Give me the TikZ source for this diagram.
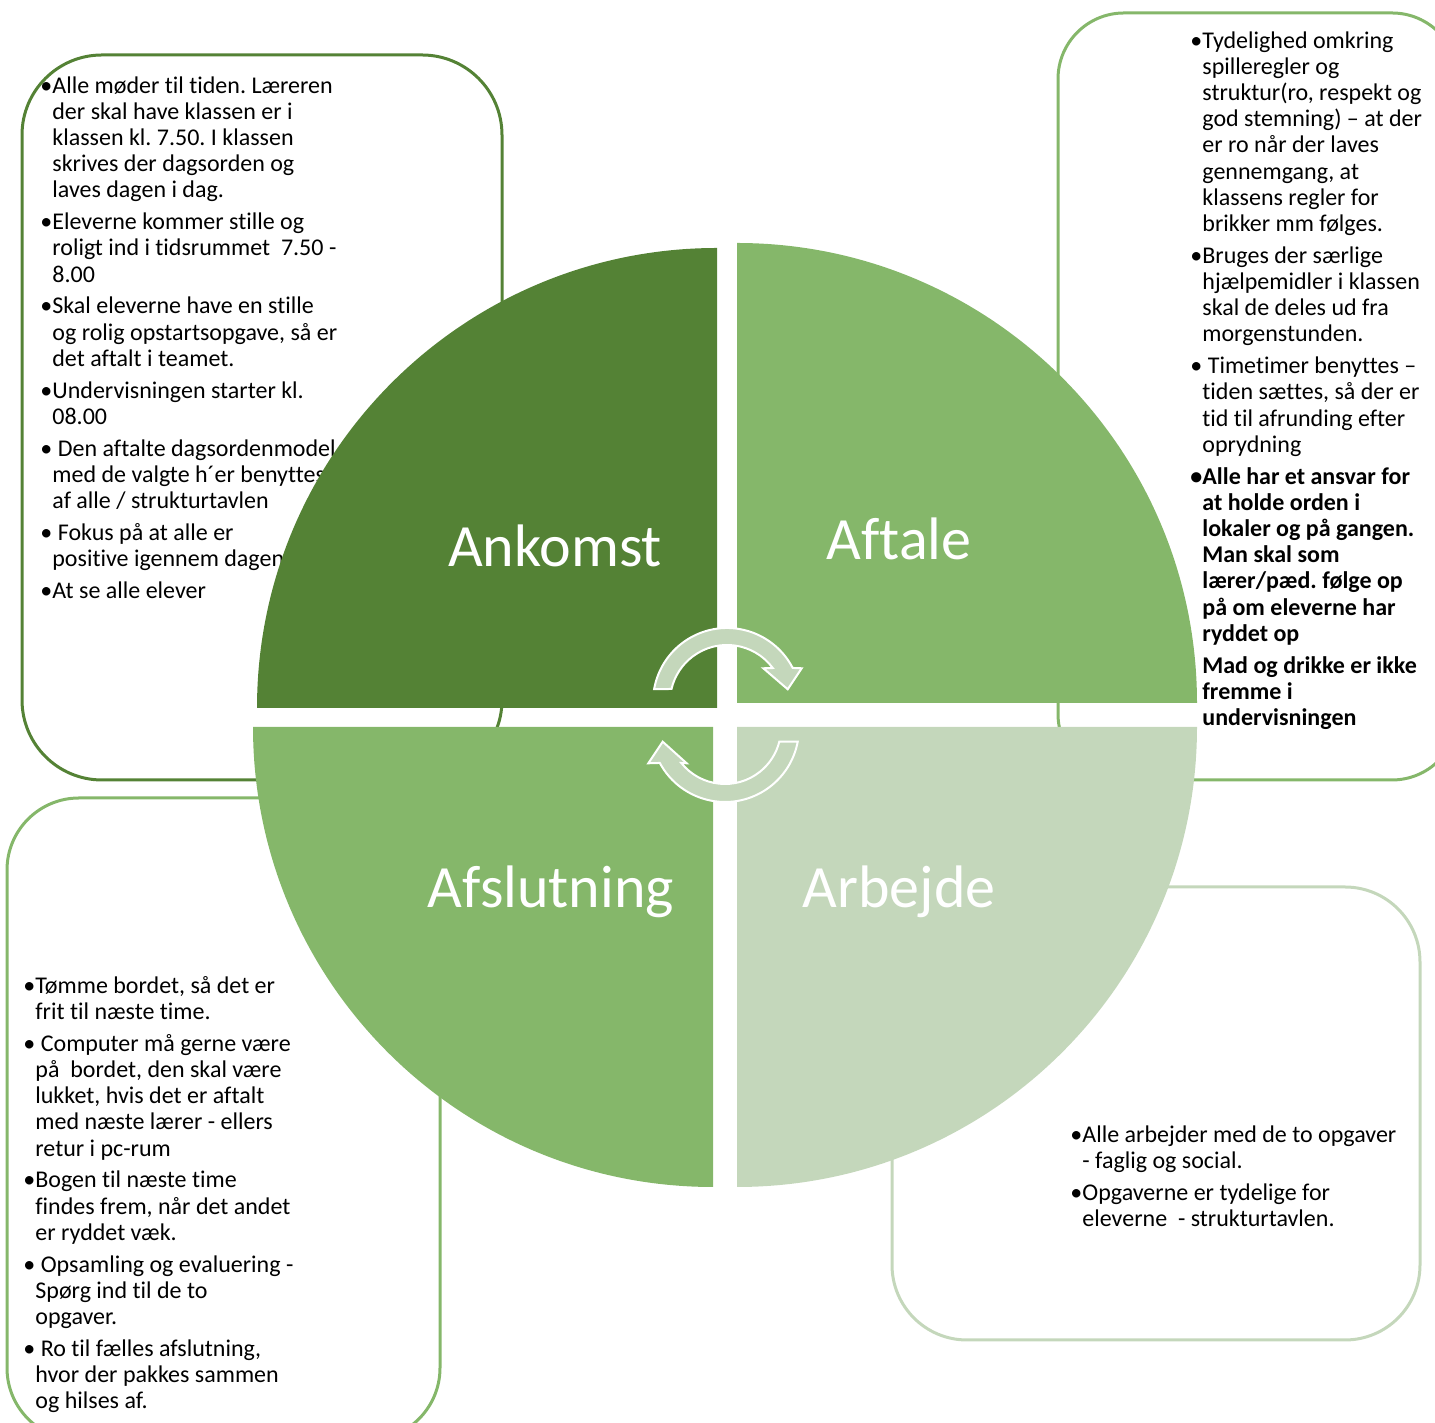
\documentclass[tikz,border=0pt]{standalone}
\usepackage{fontspec}
\setmainfont[Ligatures=NoCommon]{Carlito}
\definecolor{darkgreen}{RGB}{84,130,53}
\definecolor{midgreen}{RGB}{133,183,106}
\definecolor{palegreen}{RGB}{196,215,187}
\newcommand{\blt}{\llap{•}}
\frenchspacing

\begin{document}
\begin{tikzpicture}[x=0.5pt,y=0.5pt,
    infobox/.style={line width=1.5pt},
    listtext/.style={anchor=north west,align=left,font=\fontsize{12}{13.1}\selectfont},
    phase/.style={text=white,anchor=base,font=\fontsize{30}{36}\selectfont},
    turn/.style={fill=palegreen,draw=white,line width=1pt}]
    \tikzstyle{every node}+=[inner sep=0pt]
    \useasboundingbox (0,0) rectangle (1435,1423);
    \clip (0,0) rectangle (1435,1423);
    % boxes behind the wheel
    \draw [infobox,darkgreen,rounded corners=40pt] (22,643) rectangle (502,1368);
    \draw [infobox,midgreen,rounded corners=33pt] (1058,643) rectangle (1458,1410);
    \draw [infobox,midgreen,rounded corners=36pt] (7,-17) rectangle (440,625);
    \draw [infobox,palegreen,rounded corners=37.5pt] (892,83) rectangle (1420,536);
    \node [listtext] (ankomsttxt) at (52,1347) {%
        \blt Alle møder til tiden. Læreren\\ der skal have klassen er i\\ klassen kl. 7.50. I klassen\\ skrives der dagsorden og\\ laves dagen i dag.\\[2.8pt]
        \blt Eleverne kommer stille og\\ roligt ind i tidsrummet\ \ 7.50 -\\ 8.00\\[2.8pt]
        \blt Skal eleverne have en stille\\ og rolig opstartsopgave, så er\\ det aftalt i teamet.\\[2.8pt]
        \blt Undervisningen starter kl.\\ 08.00\\[2.8pt]
        \blt\ Den aftalte dagsordenmodel\\ med de valgte h´er benyttes\\ af alle / strukturtavlen\\[2.8pt]
        \blt\ Fokus på at alle er\\ positive igennem dagen\\[2.8pt]
        \blt At se alle elever};
    \node [listtext] (aftaletxt) at (1202,1392) {%
        \blt Tydelighed omkring\\ spilleregler og\\ struktur(ro, respekt og\\ god stemning) – at der\\ er ro når der laves\\ gennemgang, at\\ klassens regler for\\ brikker mm følges.\\[2.8pt]
        \blt Bruges der særlige\\ hjælpemidler i klassen\\ skal de deles ud fra\\ morgenstunden.\\[2.8pt]
        \blt\ Timetimer benyttes –\\ tiden sættes, så der er\\ tid til afrunding efter\\ oprydning\\[2.8pt]
        \textbf{\blt Alle har et ansvar for}\\ \textbf{at holde orden i}\\ \textbf{lokaler og på gangen.}\\ \textbf{Man skal som}\\ \textbf{lærer/pæd. følge op}\\ \textbf{på om eleverne har}\\ \textbf{ryddet op}\\[2.8pt]
        \textbf{Mad og drikke er ikke}\\ \textbf{fremme i}\\ \textbf{undervisningen}};
    \node [listtext] (afslutningtxt) at (35,447) {%
        \blt Tømme bordet, så det er\\ frit til næste time.\\[2.8pt]
        \blt\ Computer må gerne være\\ på\ \ bordet, den skal være\\ lukket, hvis det er aftalt\\ med næste lærer - ellers\\ retur i pc-rum\\[2.8pt]
        \blt Bogen til næste time\\ findes frem, når det andet\\ er ryddet væk.\\[2.8pt]
        \blt\ Opsamling og evaluering -\\ Spørg ind til de to\\ opgaver.\\[2.8pt]
        \blt\ Ro til fælles afslutning,\\ hvor der pakkes sammen\\ og hilses af.};
    \node [listtext] (arbejdetxt) at (1082,298) {%
        \blt Alle arbejder med de to opgaver\\ - faglig og social.\\[2.8pt]
        \blt Opgaverne er tydelige for\\ eleverne\ \ - strukturtavlen.};
    % the wheel
    \fill [darkgreen] (717,715) -- (717,1175) arc[start angle=90,end angle=180,radius=460] -- cycle;
    \fill [midgreen] (737,720) -- (1197,720) arc[start angle=0,end angle=90,radius=460] -- cycle;
    \fill [midgreen] (713,696) -- (253,696) arc[start angle=180,end angle=270,radius=460] -- cycle;
    \fill [palegreen] (737,696) -- (737,236) arc[start angle=270,end angle=360,radius=460] -- cycle;
    \node [phase] (ankomst) at (555,856) {Ankomst};
    \node [phase] (aftale) at (899,863) {Aftale};
    \node [phase] (afslutning) at (551,515) {Afslutning};
    \node [phase] (arbejde) at (899,515) {Arbejde};
    % turning arrows
    \draw [turn,shift={(727,721)}] (170:74) arc[start angle=170,end angle=27.4,radius=74]
        -- (74.7,33.7) -- (60.7,12.7) -- (36.3,33.7) -- (36.6:57)
        arc[start angle=36.6,end angle=166.8,radius=57] -- cycle;
    \draw [turn,shift={(725,695)}] (-10.7:74) arc[start angle=-10.7,end angle=-151.8,radius=74]
        -- (-76.7,-35.3) -- (-62.3,-13.7) -- (-38.3,-35.3) -- (-141.3:56)
        arc[start angle=-141.3,end angle=-14.2,radius=56] -- cycle;
\end{tikzpicture}
\end{document}
